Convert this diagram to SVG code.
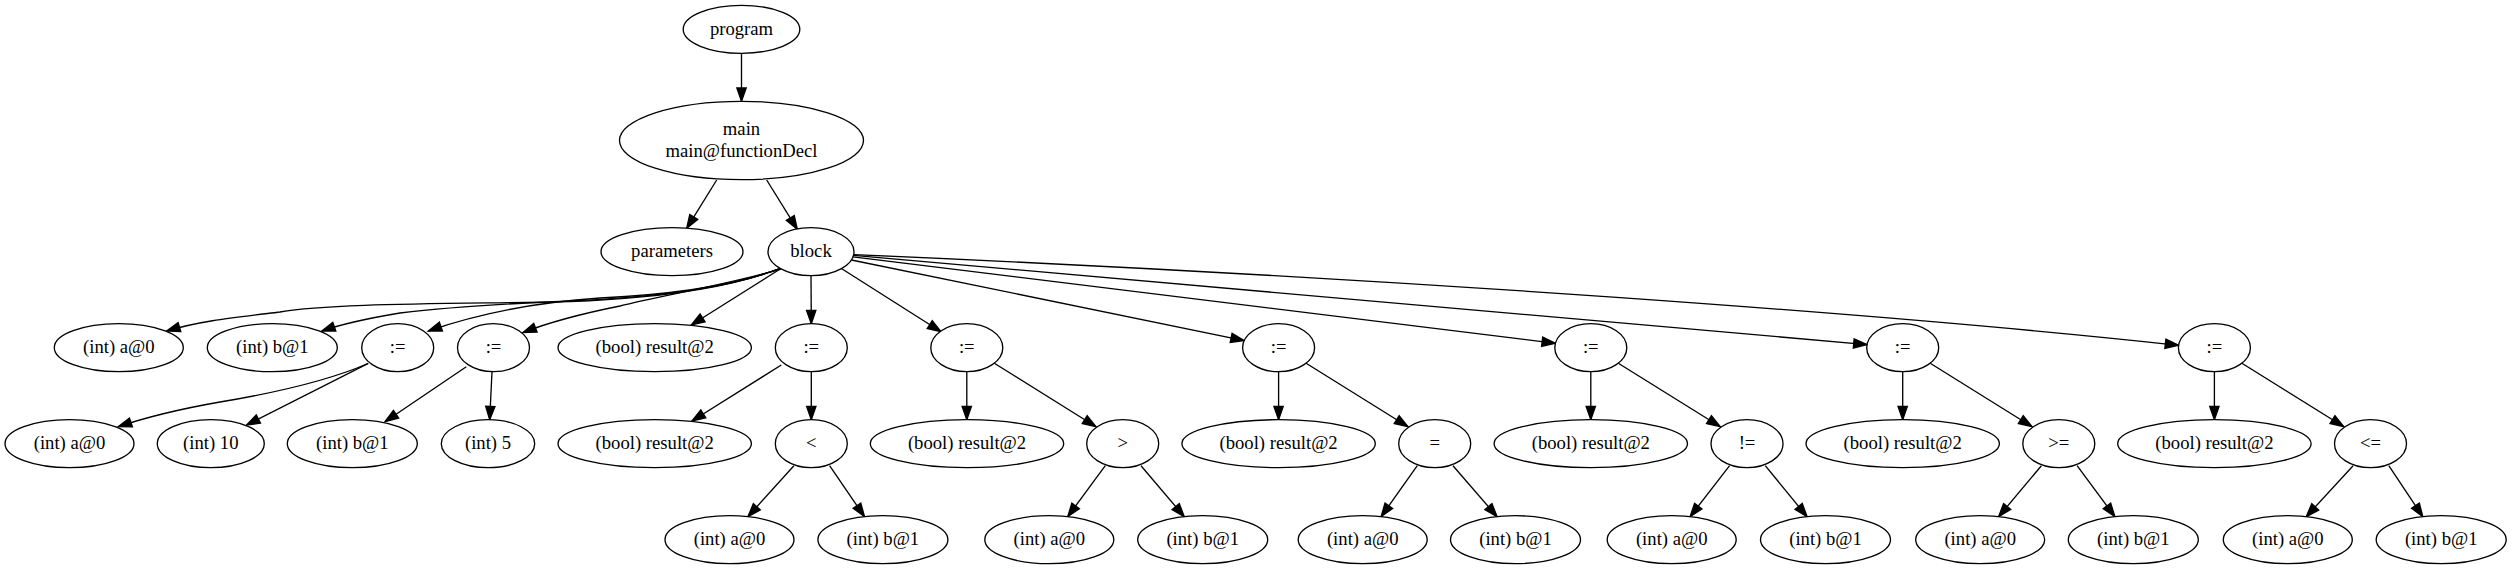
<svg xmlns="http://www.w3.org/2000/svg" width="2512" height="569" viewBox="0 0 2512 569">
<style>
.n ellipse{fill:#fff;stroke:#000;stroke-width:1.33}
.n text{font-family:"Liberation Serif","Times New Roman",serif;font-size:18.67px;text-anchor:middle;fill:#000}
.e path{fill:none;stroke:#000;stroke-width:1.33;marker-end:url(#ah)}
</style>
<defs>
<marker id="ah" markerUnits="userSpaceOnUse" markerWidth="16" markerHeight="12" refX="13.33" refY="0" viewBox="0 -6 16 12" orient="auto" overflow="visible">
<path d="M0,-4.67 L13.33,0 L0,4.67 z" fill="#000" stroke="#000" stroke-width="1.33"/>
</marker>
</defs>
<rect width="2512" height="569" fill="#fff"/>
<g id="edges" class="e">
<path d="M741.5,53.3 L741.5,101.3"/>
<path d="M716.7,180 L686.7,228.3"/>
<path d="M766.7,180 L797.3,229.3"/>
<path d="M781,268 C740,284 680,297 570,301.7 C450,304 330,303 280,312 C230,318 200,321 166.7,331"/>
<path d="M781,268 C740,284 680,296 570,301 C520,303 450,307 400,313 C370,318 345,323 321.7,331"/>
<path d="M781,268 C740,284 680,294 600,298 C540,302 480,313 428.3,331"/>
<path d="M781,269 C730,284 660,296 620,306 C580,314 550,322 523,332.5"/>
<path d="M781.3,268.3 L691.3,325"/>
<path d="M811,275.7 L811.3,323.7"/>
<path d="M841,268.3 L941,331.7"/>
<path d="M851.4,260 L1244.2,340.6"/>
<path d="M853,256.9 L1555.4,343.3"/>
<path d="M853.5,255.4 L1867,344.6"/>
<path d="M853.8,254.6 C1400,278 1900,315 2178.6,345.3"/>
<path d="M368,363.5 C330,380 280,392 220,402 C180,409 150,416 118.3,426.7"/>
<path d="M368.3,363.3 L246.5,425"/>
<path d="M466.3,366.7 L385,421.7"/>
<path d="M492,371.7 L489.7,419.7"/>
<path d="M781.3,365 L692,421"/>
<path d="M811.3,371.7 L811.3,419.7"/>
<path d="M966.8,371.7 L966.8,419.7"/>
<path d="M994.3,363.3 L1096,426.7"/>
<path d="M1278.6,371.7 L1278.6,419.7"/>
<path d="M1306.1,363.3 L1408,426.7"/>
<path d="M1590.8,371.7 L1590.8,419.7"/>
<path d="M1618.3,363.3 L1720.3,426.7"/>
<path d="M1902.7,371.7 L1902.7,419.7"/>
<path d="M1930.2,363.3 L2032.1,426.7"/>
<path d="M2214.4,371.7 L2214.4,419.7"/>
<path d="M2241.9,363.3 L2343.8,426.7"/>
<path d="M793.9,465.7 L747.9,516.7"/>
<path d="M829.6,465.7 L864.5,516.7"/>
<path d="M1105.3,465.7 L1067.7,516.7"/>
<path d="M1141,465.7 L1184.3,516.7"/>
<path d="M1417.3,465.7 L1381.1,516.7"/>
<path d="M1453,465.7 L1497.1,516.7"/>
<path d="M1729.6,465.7 L1690.1,516.7"/>
<path d="M1765.3,465.7 L1807.1,516.7"/>
<path d="M2041.4,465.7 L1998.6,516.7"/>
<path d="M2077.1,465.7 L2114.9,516.7"/>
<path d="M2353.1,465.7 L2306.2,516.7"/>
<path d="M2388.8,465.7 L2422.8,516.7"/>
</g>
<g id="program" class="n"><ellipse cx="741.5" cy="29.3" rx="58.3" ry="24"/><text x="741.5" y="34.9">program</text></g>
<g id="main" class="n"><ellipse cx="741.5" cy="140.5" rx="122" ry="39.2"/><text x="741.5" y="134.9">main</text><text x="741.5" y="157.3">main@functionDecl</text></g>
<g id="parameters" class="n"><ellipse cx="672" cy="251.7" rx="71" ry="24"/><text x="672" y="257.3">parameters</text></g>
<g id="block" class="n"><ellipse cx="811" cy="251.7" rx="43" ry="24"/><text x="811" y="257.3">block</text></g>
<g id="decl_a" class="n"><ellipse cx="118.8" cy="347.7" rx="64.5" ry="24"/><text x="118.8" y="353.3">(int) a@0</text></g>
<g id="decl_b" class="n"><ellipse cx="272.3" cy="347.7" rx="65" ry="24"/><text x="272.3" y="353.3">(int) b@1</text></g>
<g id="assign1" class="n"><ellipse cx="397.7" cy="347.7" rx="36" ry="24"/><text x="397.7" y="353.3">:=</text></g>
<g id="assign2" class="n"><ellipse cx="493.5" cy="347.7" rx="36" ry="24"/><text x="493.5" y="353.3">:=</text></g>
<g id="decl_result" class="n"><ellipse cx="654.7" cy="347.7" rx="96.7" ry="24"/><text x="654.7" y="353.3">(bool) result@2</text></g>
<g id="assign3" class="n"><ellipse cx="811.3" cy="347.7" rx="36" ry="24"/><text x="811.3" y="353.3">:=</text></g>
<g id="assign4" class="n"><ellipse cx="966.8" cy="347.7" rx="36" ry="24"/><text x="966.8" y="353.3">:=</text></g>
<g id="assign5" class="n"><ellipse cx="1278.6" cy="347.7" rx="36" ry="24"/><text x="1278.6" y="353.3">:=</text></g>
<g id="assign6" class="n"><ellipse cx="1590.8" cy="347.7" rx="36" ry="24"/><text x="1590.8" y="353.3">:=</text></g>
<g id="assign7" class="n"><ellipse cx="1902.7" cy="347.7" rx="36" ry="24"/><text x="1902.7" y="353.3">:=</text></g>
<g id="assign8" class="n"><ellipse cx="2214.4" cy="347.7" rx="36" ry="24"/><text x="2214.4" y="353.3">:=</text></g>
<g id="a1_lhs" class="n"><ellipse cx="69.5" cy="443.7" rx="64.5" ry="24"/><text x="69.5" y="449.3">(int) a@0</text></g>
<g id="a1_rhs" class="n"><ellipse cx="210.8" cy="443.7" rx="53.5" ry="24"/><text x="210.8" y="449.3">(int) 10</text></g>
<g id="a2_lhs" class="n"><ellipse cx="352.3" cy="443.7" rx="65" ry="24"/><text x="352.3" y="449.3">(int) b@1</text></g>
<g id="a2_rhs" class="n"><ellipse cx="488" cy="443.7" rx="46.7" ry="24"/><text x="488" y="449.3">(int) 5</text></g>
<g id="a3_lhs" class="n"><ellipse cx="654.7" cy="443.7" rx="96.7" ry="24"/><text x="654.7" y="449.3">(bool) result@2</text></g>
<g id="op_lt" class="n"><ellipse cx="811.3" cy="443.7" rx="36" ry="24"/><text x="811.3" y="449.3">&lt;</text></g>
<g id="a4_lhs" class="n"><ellipse cx="967" cy="443.7" rx="96.7" ry="24"/><text x="967" y="449.3">(bool) result@2</text></g>
<g id="op_gt" class="n"><ellipse cx="1122.7" cy="443.7" rx="36" ry="24"/><text x="1122.7" y="449.3">&gt;</text></g>
<g id="a5_lhs" class="n"><ellipse cx="1278.6" cy="443.7" rx="96.7" ry="24"/><text x="1278.6" y="449.3">(bool) result@2</text></g>
<g id="op_eq" class="n"><ellipse cx="1434.7" cy="443.7" rx="36" ry="24"/><text x="1434.7" y="449.3">=</text></g>
<g id="a6_lhs" class="n"><ellipse cx="1590.8" cy="443.7" rx="96.7" ry="24"/><text x="1590.8" y="449.3">(bool) result@2</text></g>
<g id="op_ne" class="n"><ellipse cx="1747" cy="443.7" rx="36" ry="24"/><text x="1747" y="449.3">!=</text></g>
<g id="a7_lhs" class="n"><ellipse cx="1902.7" cy="443.7" rx="96.7" ry="24"/><text x="1902.7" y="449.3">(bool) result@2</text></g>
<g id="op_ge" class="n"><ellipse cx="2058.8" cy="443.7" rx="36" ry="24"/><text x="2058.8" y="449.3">&gt;=</text></g>
<g id="a8_lhs" class="n"><ellipse cx="2214.4" cy="443.7" rx="96.7" ry="24"/><text x="2214.4" y="449.3">(bool) result@2</text></g>
<g id="op_le" class="n"><ellipse cx="2370.5" cy="443.7" rx="36" ry="24"/><text x="2370.5" y="449.3">&lt;=</text></g>
<g id="lt_a" class="n"><ellipse cx="729.5" cy="539.7" rx="64.5" ry="24"/><text x="729.5" y="545.3">(int) a@0</text></g>
<g id="lt_b" class="n"><ellipse cx="882.9" cy="539.7" rx="65" ry="24"/><text x="882.9" y="545.3">(int) b@1</text></g>
<g id="gt_a" class="n"><ellipse cx="1049.3" cy="539.7" rx="64.5" ry="24"/><text x="1049.3" y="545.3">(int) a@0</text></g>
<g id="gt_b" class="n"><ellipse cx="1202.7" cy="539.7" rx="65" ry="24"/><text x="1202.7" y="545.3">(int) b@1</text></g>
<g id="eq_a" class="n"><ellipse cx="1362.7" cy="539.7" rx="64.5" ry="24"/><text x="1362.7" y="545.3">(int) a@0</text></g>
<g id="eq_b" class="n"><ellipse cx="1515.5" cy="539.7" rx="65" ry="24"/><text x="1515.5" y="545.3">(int) b@1</text></g>
<g id="ne_a" class="n"><ellipse cx="1671.7" cy="539.7" rx="64.5" ry="24"/><text x="1671.7" y="545.3">(int) a@0</text></g>
<g id="ne_b" class="n"><ellipse cx="1825.5" cy="539.7" rx="65" ry="24"/><text x="1825.5" y="545.3">(int) b@1</text></g>
<g id="ge_a" class="n"><ellipse cx="1980.2" cy="539.7" rx="64.5" ry="24"/><text x="1980.2" y="545.3">(int) a@0</text></g>
<g id="ge_b" class="n"><ellipse cx="2133.3" cy="539.7" rx="65" ry="24"/><text x="2133.3" y="545.3">(int) b@1</text></g>
<g id="le_a" class="n"><ellipse cx="2287.8" cy="539.7" rx="64.5" ry="24"/><text x="2287.8" y="545.3">(int) a@0</text></g>
<g id="le_b" class="n"><ellipse cx="2441.2" cy="539.7" rx="65" ry="24"/><text x="2441.2" y="545.3">(int) b@1</text></g>
</svg>
